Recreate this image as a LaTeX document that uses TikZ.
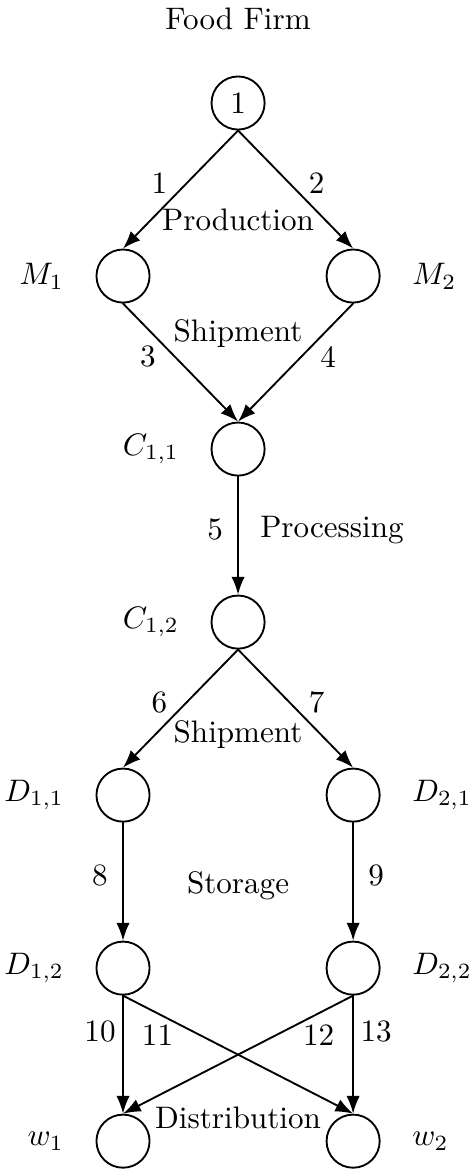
\documentclass[tikz,border=0pt]{standalone}
\usepackage{amsmath}
\usepackage{tikz}
\usetikzlibrary{arrows.meta}

\begin{document}
\begin{tikzpicture}[>=Latex, line cap=round, line join=round, semithick,
    nodo/.style={circle, draw, minimum size=6mm, inner sep=0pt},
    sx/.style={label={[label distance=2.3mm]left:#1}},
    dx/.style={label={[label distance=2.3mm]right:#1}},
    nl/.style={left=2.5pt, pos=.45},
    nr/.style={right=2.5pt, pos=.45},
    vl/.style={xshift=-.26cm},
    vr/.style={xshift=.26cm}]

\useasboundingbox (-2.69,1.164) rectangle (2.60,-12.056);

% Titolo
\node (titolo) at (0,0.955) {Food Firm};

% Nodi
\node[nodo] (f) at (0,0) {1};
\node[nodo, sx={$M_1$}] (m1) at (-1.3,-1.955) {};
\node[nodo, dx={$M_2$}] (m2) at (1.3,-1.955) {};
\node[nodo, sx={$C_{1,1}$}] (c11) at (0,-3.91) {};
\node[nodo, sx={$C_{1,2}$}] (c12) at (0,-5.865) {};
\node[nodo, sx={$D_{1,1}$}] (d11) at (-1.3,-7.82) {};
\node[nodo, dx={$D_{2,1}$}] (d21) at (1.3,-7.82) {};
\node[nodo, sx={$D_{1,2}$}] (d12) at (-1.3,-9.775) {};
\node[nodo, dx={$D_{2,2}$}] (d22) at (1.3,-9.775) {};
\node[nodo, sx={$w_1$}] (w1) at (-1.3,-11.73) {};
\node[nodo, dx={$w_2$}] (w2) at (1.3,-11.73) {};

% Fasi
\node (prod) at (0,-1.32) {Production};
\node (sped1) at (0,-2.60) {Shipment};
\node (sped2) at (0,-7.14) {Shipment};
\node (stock) at (0,-8.84) {Storage};
\node (distr) at (0,-11.47) {Distribution};

% Archi
\draw[->] (f.south) -- node[nl] {1} (m1.north);
\draw[->] (f.south) -- node[nr] {2} (m2.north);
\draw[->] (m1.south) -- node[nl] {3} (c11.north);
\draw[->] (m2.south) -- node[nr] {4} (c11.north);
\draw[->] (c11.south) -- node[vl, pos=.45] {5} node[right=3.5pt, pos=.45] {Processing} (c12.north);
\draw[->] (c12.south) -- node[nl] {6} (d11.north);
\draw[->] (c12.south) -- node[nr] {7} (d21.north);
\draw[->] (d11.south) -- node[vl, pos=.45] {8} (d12.north);
\draw[->] (d21.south) -- node[vr, pos=.45] {9} (d22.north);
\draw[->] (d12.south) -- node[vl, pos=.3] {10} (w1.north);
\draw[->] (d12.south) -- node[below, pos=.15] {11} (w2.north);
\draw[->] (d22.south) -- node[below, pos=.15] {12} (w1.north);
\draw[->] (d22.south) -- node[vr, pos=.3] {13} (w2.north);

\end{tikzpicture}
\end{document}
